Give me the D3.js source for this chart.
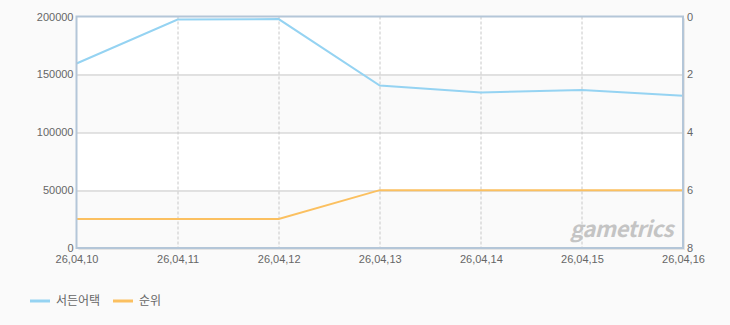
<!DOCTYPE html>
<html lang="ko">
<head>
    <meta charset="UTF-8">
    <title>서든어택 순위</title>
    <script src="https://d3js.org/d3.v7.min.js"></script>
    <style>
        body {
            margin: 0;
            background: #fafafa;
            font-family: "Noto Sans CJK KR", "DejaVu Sans", sans-serif;
        }
        svg text {
            fill: #666;
            font-size: 11px;
        }
        .axis path, .axis line { display: none; }
    </style>
</head>
<body>
    <svg width="730" height="325"></svg>
    <script>
        // data
        const dates = ["26,04,10", "26,04,11", "26,04,12", "26,04,13", "26,04,14", "26,04,15", "26,04,16"];
        const players = [159400, 197400, 197800, 140300, 134400, 136500, 131500];
        const ranks = [7, 7, 7, 6, 6, 6, 6];
        const seriesNames = ["서든어택", "순위"];
        const leftTicks = [0, 50000, 100000, 150000, 200000];
        const rightTicks = [0, 2, 4, 6, 8];

        const svg = d3.select("svg"),
            margin = {top: 16.5, left: 76.5, right: 47, bottom: 77},
            width = 730 - margin.left - margin.right,
            height = 325 - margin.top - margin.bottom;

        const x = d3.scalePoint().domain(dates).range([0, width]),
              y = d3.scaleLinear().domain([0, 200000]).range([height, 0]),
              yR = d3.scaleLinear().domain([0, 8]).range([0, height]);

        const g = svg.append("g").attr("transform", `translate(${margin.left},${margin.top})`);

        // shadow for plot frame
        g.append("rect")
            .attr("x", 2).attr("y", 2)
            .attr("width", width).attr("height", height)
            .attr("fill", "#e4e4e4");

        // alternating bands
        for (let i = 0; i < leftTicks.length - 1; i++) {
            g.append("rect")
                .attr("x", 0)
                .attr("y", y(leftTicks[i + 1]))
                .attr("width", width)
                .attr("height", y(leftTicks[i]) - y(leftTicks[i + 1]))
                .attr("fill", i % 2 === 0 ? "#fafafa" : "#ffffff");
        }

        // horizontal grid
        g.selectAll(".hgrid")
            .data(leftTicks.slice(1, -1))
            .enter().append("line")
            .attr("x1", 0).attr("x2", width)
            .attr("y1", d => Math.round(y(d)) + 0.5)
            .attr("y2", d => Math.round(y(d)) + 0.5)
            .attr("stroke", "#c8c8c8");

        // vertical dashed grid
        g.selectAll(".vgrid")
            .data(dates.slice(1, -1))
            .enter().append("line")
            .attr("x1", d => Math.round(x(d)) + 0.5)
            .attr("x2", d => Math.round(x(d)) + 0.5)
            .attr("y1", 0).attr("y2", height)
            .attr("stroke", "#c8c8c8")
            .attr("stroke-dasharray", "3,2");

        // watermark
        g.append("text")
            .attr("x", width - 10)
            .attr("y", height - 11)
            .attr("text-anchor", "end")
            .style("font-size", "22px")
            .style("font-weight", "bold")
            .style("font-style", "italic")
            .style("fill", "#c4c4c4")
            .style("letter-spacing", "-0.5px")
            .text("gametrics");

        // lines
        const line1 = d3.line()
            .x((d, i) => x(dates[i]))
            .y(d => y(d));
        const line2 = d3.line()
            .x((d, i) => x(dates[i]))
            .y(d => yR(d));

        g.append("path")
            .datum(players)
            .attr("fill", "none")
            .attr("stroke", "#95d3f2")
            .attr("stroke-width", 2)
            .attr("d", line1);

        g.append("path")
            .datum(ranks)
            .attr("fill", "none")
            .attr("stroke", "#fbc060")
            .attr("stroke-width", 2)
            .attr("d", line2);

        // frame
        g.append("rect")
            .attr("x", 0).attr("y", 0)
            .attr("width", width).attr("height", height)
            .attr("fill", "none")
            .attr("stroke", "#b4c6d8")
            .attr("stroke-width", 2);

        // axes
        g.append("g")
            .attr("class", "axis")
            .call(d3.axisLeft(y).tickValues(leftTicks).tickFormat(d3.format("d")).tickSize(0).tickPadding(3))
            .selectAll("text").attr("dy", "0.32em");

        g.append("g")
            .attr("class", "axis")
            .attr("transform", `translate(${width},0)`)
            .call(d3.axisRight(yR).tickValues(rightTicks).tickSize(0).tickPadding(4));

        g.append("g")
            .attr("class", "axis")
            .attr("transform", `translate(0,${height})`)
            .call(d3.axisBottom(x).tickSize(0).tickPadding(7));

        // legend
        const colors = ["#95d3f2", "#fbc060"];
        const legend = svg.append("g")
            .selectAll("g")
            .data(seriesNames)
            .enter().append("g")
            .attr("transform", (d, i) => `translate(${30 + i * 83},301)`);

        legend.append("rect")
            .attr("x", 0).attr("y", -1.5)
            .attr("width", 20).attr("height", 3)
            .attr("fill", (d, i) => colors[i]);

        legend.append("text")
            .attr("x", 26)
            .attr("dy", "0.35em")
            .style("font-size", "12px")
            .text(d => d);
    </script>
</body>
</html>
